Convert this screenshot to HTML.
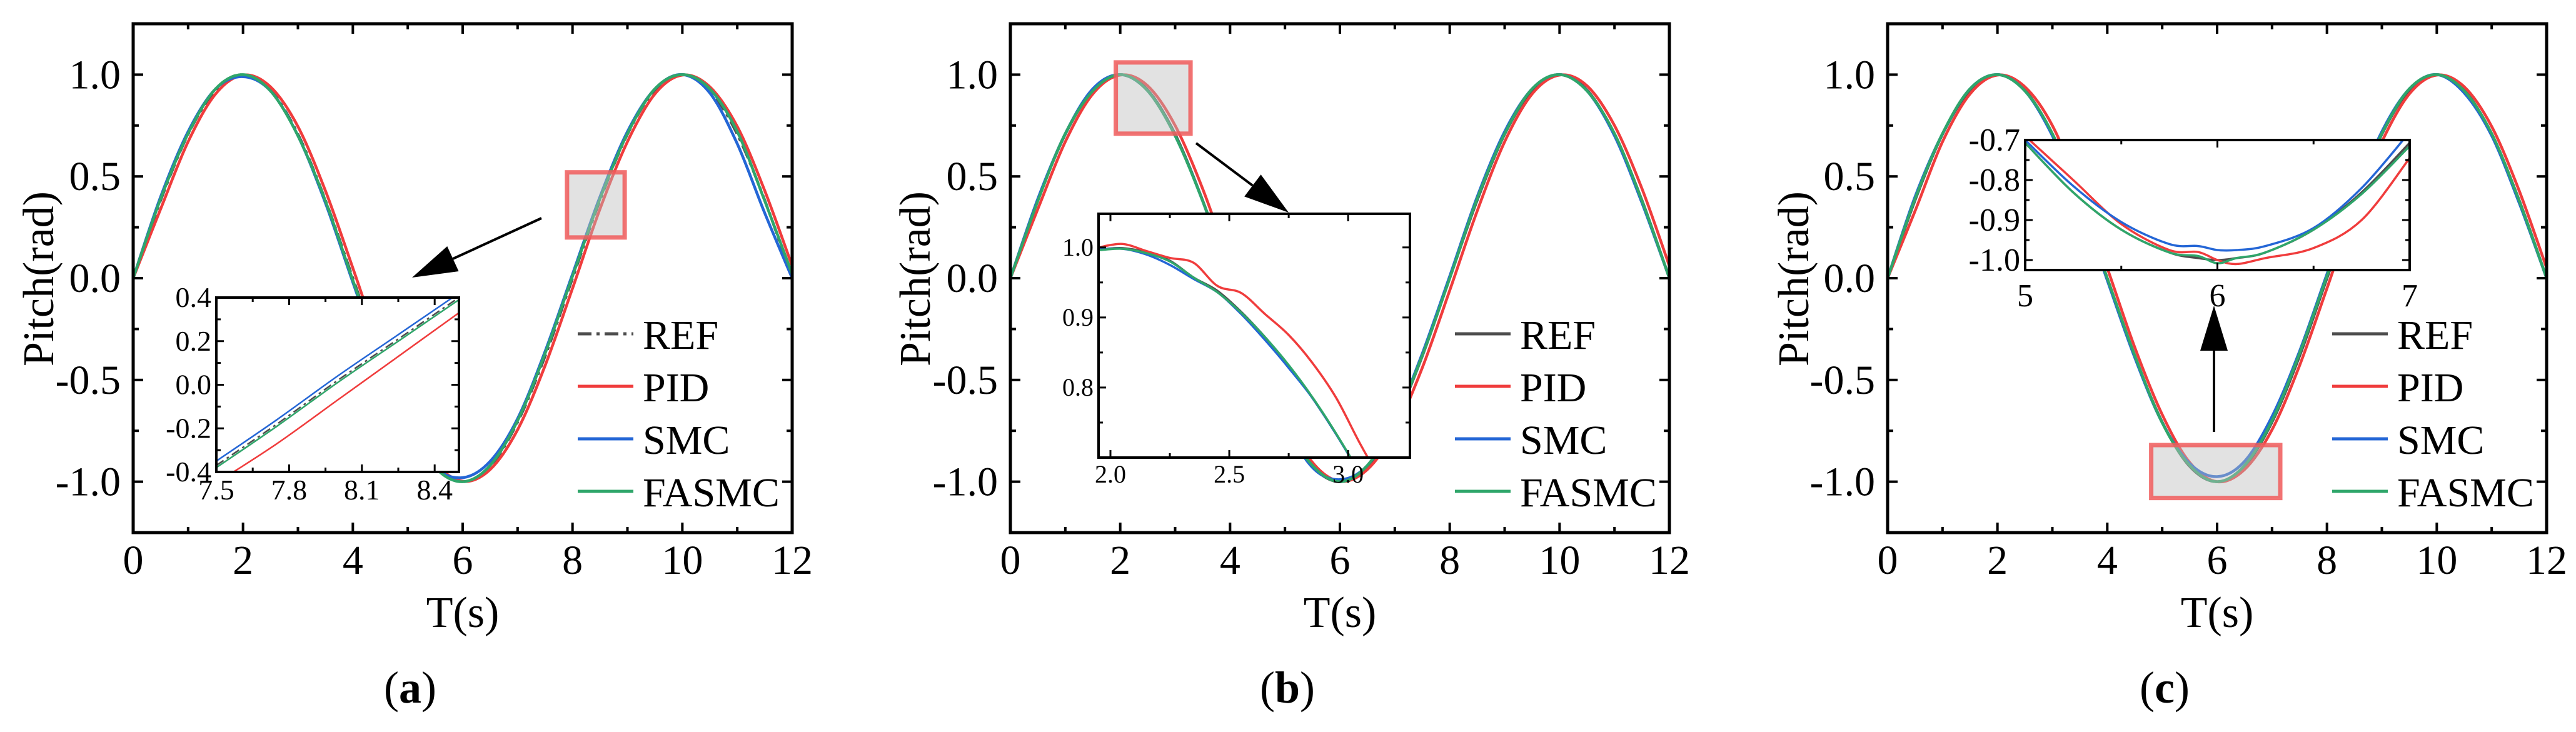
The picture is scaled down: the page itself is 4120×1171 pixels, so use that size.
<!DOCTYPE html>
<html><head><meta charset="utf-8"><style>
html,body{margin:0;padding:0;background:#fff;}
svg{display:block;font-family:"Liberation Serif",serif;}
</style></head><body>
<svg id="fig" xmlns="http://www.w3.org/2000/svg" width="4120" height="1171" viewBox="0 0 4120 1171"></svg>
<script>
// ---- shared data ----
const mainT = [0,0.5,1,1.5,2,2.5,3,3.5,4,4.5,5,5.5,6,6.5,7,7.5,8,8.5,9,9.5,10,10.5,11,11.5,12];
const refMain = [0,.383,.707,.924,1,.924,.707,.383,0,-.383,-.707,-.924,-1,-.924,-.707,-.383,0,.383,.707,.924,1,.924,.707,.383,0];
const xTickVals = [0,2,4,6,8,10,12];
const xTickLabels = ["0","2","4","6","8","10","12"];
const yTickVals = [-1,-0.5,0,0.5,1];
const yTickLabels = ["-1.0","-0.5","0.0","0.5","1.0"];
const legendNames = ["REF","PID","SMC","FASMC"];

// panel a
const pidA = [0,.34,.67,.905,.998,.94,.745,.43,.05,-.34,-.67,-.905,-.998,-.94,-.745,-.43,-.05,.34,.67,.905,.998,.94,.745,.43,.06];
const smcA = [0,.40,.72,.93,.99,.92,.70,.37,-.02,-.40,-.72,-.93,-.98,-.90,-.69,-.36,.02,.40,.72,.93,1,.91,.66,.32,0];
const fasA = [0,.39,.71,.93,1,.92,.70,.38,-.01,-.39,-.71,-.93,-1,-.92,-.70,-.37,.01,.39,.71,.93,1,.93,.72,.38,.02];
const insetAx = [7.5,7.75,8.0,8.25,8.5];
const insetAref = [-.37,-.18,.02,.21,.40];
const insetApid = [-.45,-.27,-.07,.13,.33];
const insetAsmc = [-.35,-.16,.04,.23,.42];
const insetAfas = [-.38,-.19,.01,.20,.39];
const insetAxTicks = [7.5,7.8,8.1,8.4];
const insetAxLabels = ["7.5","7.8","8.1","8.4"];
const insetAyTicks = [-0.4,-0.2,0,0.2,0.4];
const insetAyLabels = ["-0.4","-0.2","0.0","0.2","0.4"];

// panel b
const pidB = [0,.34,.67,.905,.998,.945,.75,.44,.06,-.33,-.67,-.905,-.998,-.94,-.75,-.44,-.06,.33,.67,.905,.998,.945,.75,.44,.06];
const smcB = [0,.39,.71,.93,1,.92,.70,.38,-.01,-.39,-.71,-.93,-.99,-.92,-.70,-.37,.01,.40,.72,.93,1,.92,.70,.37,0];
const fasB = [0,.38,.71,.92,1,.92,.70,.38,0,-.38,-.71,-.92,-1,-.92,-.70,-.38,0,.39,.71,.93,1,.92,.71,.38,0];
const insetBx = [1.95,2.05,2.15,2.25,2.35,2.45,2.55,2.65,2.75,2.85,2.95,3.05,3.15];
const insetBref = [.997,.999,.993,.981,.957,.938,.908,.872,.831,.785,.733,.676,.613];
const insetBpid = [1.0,1.005,.995,.985,.978,.945,.935,.905,.875,.835,.785,.72,.66];
const insetBsmc = [.997,.998,.99,.975,.955,.936,.905,.868,.828,.785,.733,.676,.613];
const insetBfas = [.996,.998,.992,.980,.957,.936,.907,.872,.832,.786,.734,.677,.614];
const insetBxTicks = [2.0,2.5,3.0];
const insetBxLabels = ["2.0","2.5","3.0"];
const insetByTicks = [0.8,0.9,1.0];
const insetByLabels = ["0.8","0.9","1.0"];

// panel c
const pidC = [0,.33,.67,.905,.998,.94,.75,.43,.05,-.34,-.67,-.905,-1.0,-.94,-.745,-.43,-.05,.34,.67,.905,.998,.94,.745,.43,.05];
const smcC = [0,.40,.71,.93,1,.92,.70,.38,-.01,-.39,-.71,-.91,-.975,-.90,-.68,-.36,.02,.40,.72,.93,1,.91,.70,.37,0];
const fasC = [0,.39,.71,.93,1,.92,.71,.38,0,-.38,-.71,-.92,-1.0,-.92,-.70,-.37,.01,.39,.71,.93,1,.92,.71,.38,0];
const insetCx = [5,5.25,5.5,5.75,5.9,6,6.1,6.25,6.5,6.75,7];
const insetCref = [-.707,-.831,-.924,-.981,-.995,-1,-.995,-.981,-.924,-.831,-.707];
const insetCpid = [-.69,-.80,-.91,-.975,-.98,-1.0,-1.01,-.995,-.97,-.90,-.745];
const insetCsmc = [-.70,-.815,-.905,-.96,-.965,-.975,-.975,-.965,-.92,-.82,-.68];
const insetCfas = [-.707,-.831,-.924,-.981,-.99,-1.008,-.995,-.981,-.924,-.835,-.715];
const insetCxTicks = [5,6,7];
const insetCxLabels = ["5","6","7"];
const insetCyTicks = [-1.0,-0.9,-0.8,-0.7];
const insetCyLabels = ["-1.0","-0.9","-0.8","-0.7"];

const COLORS = ["#4d4d4d","#f03c3c","#2466d6","#2fa66a"];
const NS = "http://www.w3.org/2000/svg";
const svg = document.getElementById("fig");

function mk(tag, attrs, parent){
  const e = document.createElementNS(NS, tag);
  for (const k in attrs) e.setAttribute(k, attrs[k]);
  (parent||svg).appendChild(e);
  return e;
}
function smoothPath(pts){
  let d = "M"+pts[0][0].toFixed(1)+","+pts[0][1].toFixed(1);
  for (let i=0;i<pts.length-1;i++){
    const p0=pts[Math.max(0,i-1)], p1=pts[i], p2=pts[i+1], p3=pts[Math.min(pts.length-1,i+2)];
    const c1=[p1[0]+(p2[0]-p0[0])/6, p1[1]+(p2[1]-p0[1])/6];
    const c2=[p2[0]-(p3[0]-p1[0])/6, p2[1]-(p3[1]-p1[1])/6];
    d += " C"+c1[0].toFixed(1)+","+c1[1].toFixed(1)+" "+c2[0].toFixed(1)+","+c2[1].toFixed(1)+" "+p2[0].toFixed(1)+","+p2[1].toFixed(1);
  }
  return d;
}
let clipId = 0;
function axes(box, xr, yr){
  const sx = v => box.x + (v-xr[0])/(xr[1]-xr[0])*box.w;
  const sy = v => box.y + box.h - (v-yr[0])/(yr[1]-yr[0])*box.h;
  return {sx, sy};
}
function drawSeries(g, ax, xs, ys, color, width, dash, name, clip){
  const pts = xs.map((x,i)=>[ax.sx(x), ax.sy(ys[i])]);
  const p = mk("path",{d:smoothPath(pts),fill:"none",stroke:color,"stroke-width":width,"stroke-linejoin":"round","clip-path":"url(#"+clip+")"},g);
  if (dash) p.setAttribute("stroke-dasharray", dash);
  
  
}
function makeClip(box){
  const id = "clip"+(clipId++);
  const cp = mk("clipPath",{id:id});
  mk("rect",{x:box.x,y:box.y,width:box.w,height:box.h},cp);
  return id;
}
function ticks(g, ax, box, xt, xminor, yt, yminor, majL, minL, sw){
  const all = [];
  xt.forEach(v=>all.push(["x",v,majL])); xminor.forEach(v=>all.push(["x",v,minL]));
  yt.forEach(v=>all.push(["y",v,majL])); yminor.forEach(v=>all.push(["y",v,minL]));
  all.forEach(([k,v,L])=>{
    if (k==="x"){ const X=ax.sx(v);
      mk("line",{x1:X,y1:box.y+box.h,x2:X,y2:box.y+box.h-L,stroke:"#000","stroke-width":sw},g);
      mk("line",{x1:X,y1:box.y,x2:X,y2:box.y+L,stroke:"#000","stroke-width":sw},g);
    } else { const Y=ax.sy(v);
      mk("line",{x1:box.x,y1:Y,x2:box.x+L,y2:Y,stroke:"#000","stroke-width":sw},g);
      mk("line",{x1:box.x+box.w,y1:Y,x2:box.x+box.w-L,y2:Y,stroke:"#000","stroke-width":sw},g);
    }
  });
}
function arrow(g, x1,y1,x2,y2, name){
  const dx=x2-x1, dy=y2-y1, L=Math.hypot(dx,dy), ux=dx/L, uy=dy/L;
  const hl=72, hw=22;
  const bx=x2-ux*hl, by=y2-uy*hl;
  mk("line",{x1:x1,y1:y1,x2:bx,y2:by,stroke:"#000","stroke-width":4},g);
  const h = mk("polygon",{points:`${x2},${y2} ${bx-uy*hw},${by+ux*hw} ${bx+uy*hw},${by-ux*hw}`,fill:"#000"},g);
  
  
}

function panel(cfg){
  const g = mk("g",{});
  
  
  const box = {x:cfg.x0, y:38, w:1054, h:814};
  const ax = axes(box,[0,12],[-1.25,1.25]);
  const clip = makeClip(box);
  const series = [refMain, cfg.pid, cfg.smc, cfg.fas];
  series.forEach((ys,i)=>drawSeries(g, ax, mainT, ys, COLORS[i], 4.5, (i===0&&cfg.dashRef)?"22,8,5,8":null, "series-"+legendNames[i].toLowerCase()+"-"+cfg.id, clip));
  const hb = cfg.hl;
  const hr = mk("rect",{x:ax.sx(hb[0]),y:ax.sy(hb[3]),width:ax.sx(hb[1])-ax.sx(hb[0]),height:ax.sy(hb[2])-ax.sy(hb[3]),fill:"rgba(190,190,190,0.45)",stroke:"rgba(240,90,90,0.85)","stroke-width":7},g);
  
  
  const fr = mk("rect",{x:box.x,y:box.y,width:box.w,height:box.h,fill:"none",stroke:"#000","stroke-width":5},g);
  
  
  ticks(g, ax, box, xTickVals, [1,3,5,7,9,11], yTickVals, [-1.25,-0.75,-0.25,0.25,0.75,1.25], 16, 9, 4);
  xTickVals.forEach((v,i)=>{
    const t = mk("text",{x:ax.sx(v),y:918,"font-size":66,"text-anchor":"middle"},g);
    t.textContent = xTickLabels[i];
    
    
  });
  yTickVals.forEach((v,i)=>{
    const t = mk("text",{x:box.x-20,y:ax.sy(v)+22,"font-size":66,"text-anchor":"end"},g);
    t.textContent = yTickLabels[i];
    
    
  });
  const xt = mk("text",{x:box.x+box.w/2,y:1003,"font-size":70,"text-anchor":"middle"},g);
  xt.textContent = "T(s)";
  
  
  const yt = mk("text",{x:0,y:0,"font-size":70,"text-anchor":"middle",transform:`translate(${cfg.ylabX},446) rotate(-90)`},g);
  yt.textContent = "Pitch(rad)";
  
  
  const pl = mk("text",{x:box.x+box.w/2-84,y:1124,"font-size":72,"text-anchor":"middle"},g);
  pl.innerHTML = '(<tspan font-weight="bold">'+cfg.id+'</tspan>)';
  
  
  const rows=[534,618,702,786];
  legendNames.forEach((n,i)=>{
    const lg = mk("g",{},g);
    
    
    const ln = mk("line",{x1:cfg.x0+711,y1:rows[i],x2:cfg.x0+800,y2:rows[i],stroke:COLORS[i],"stroke-width":5},lg);
    if (i===0&&cfg.dashRef) ln.setAttribute("stroke-dasharray","22,8,5,8");
    const t = mk("text",{x:cfg.x0+815,y:rows[i]+24,"font-size":66},lg);
    t.textContent = n;
  });
  const ib = cfg.inset.box;
  const iax = axes(ib, cfg.inset.xr, cfg.inset.yr);
  const ig = mk("g",{},g);
  
  
  mk("rect",{x:ib.x,y:ib.y,width:ib.w,height:ib.h,fill:"#fff"},ig);
  const iclip = makeClip(ib);
  const is = cfg.inset.series;
  is.forEach((ys,i)=>drawSeries(ig, iax, cfg.inset.xs, ys, COLORS[i], cfg.inset.lw, (i===0&&cfg.dashRef)?"14,6,4,6":null, "inset-series-"+legendNames[i].toLowerCase()+"-"+cfg.id, iclip));
  mk("rect",{x:ib.x,y:ib.y,width:ib.w,height:ib.h,fill:"none",stroke:"#000","stroke-width":4},ig);
  ticks(ig, iax, ib, cfg.inset.xt, cfg.inset.xminor, cfg.inset.yt, cfg.inset.yminor, 12, 7, 3);
  cfg.inset.xt.forEach((v,i)=>{
    const t = mk("text",{x:iax.sx(v),y:ib.y+ib.h+cfg.inset.xlabDy,"font-size":cfg.inset.fs,"text-anchor":"middle"},ig);
    t.textContent = cfg.inset.xl[i];
    
    
  });
  cfg.inset.yt.forEach((v,i)=>{
    const t = mk("text",{x:ib.x-8,y:iax.sy(v)+cfg.inset.fs*0.33,"font-size":cfg.inset.fs,"text-anchor":"end"},ig);
    t.textContent = cfg.inset.yl[i];
    
    
  });
  arrow(g, cfg.arrow[0], cfg.arrow[1], cfg.arrow[2], cfg.arrow[3], 'zoom-arrow-'+cfg.id);
}

panel({id:"a", x0:213, ylabX:85, dashRef:true, pid:pidA, smc:smcA, fas:fasA,
  hl:[7.9,8.95,0.2,0.52], arrow:[866,349,659,444],
  inset:{box:{x:346,y:476,w:388,h:279}, xr:[7.5,8.5], yr:[-0.4,0.4], xs:insetAx,
    series:[insetAref,insetApid,insetAsmc,insetAfas], lw:2.5,
    xt:insetAxTicks, xl:insetAxLabels, xminor:[7.65,7.95,8.25], yt:insetAyTicks, yl:insetAyLabels, yminor:[-0.3,-0.1,0.1,0.3],
    fs:46, xlabDy:44}});
panel({id:"b", x0:1616, ylabX:1487, dashRef:false, pid:pidB, smc:smcB, fas:fasB,
  hl:[1.92,3.28,0.71,1.06], arrow:[1913,229,2061,340],
  inset:{box:{x:1757,y:342,w:498,h:390}, xr:[1.95,3.26], yr:[0.7,1.048], xs:insetBx,
    series:[insetBref,insetBpid,insetBsmc,insetBfas], lw:3.5,
    xt:insetBxTicks, xl:insetBxLabels, xminor:[2.25,2.75], yt:insetByTicks, yl:insetByLabels, yminor:[0.75,0.85,0.95],
    fs:40, xlabDy:40}});
panel({id:"c", x0:3019, ylabX:2892, dashRef:false, pid:pidC, smc:smcC, fas:fasC,
  hl:[4.8,7.15,-1.08,-0.82], arrow:[3541,691,3541,489],
  inset:{box:{x:3239,y:224,w:615,h:208}, xr:[5,7], yr:[-1.025,-0.7], xs:insetCx,
    series:[insetCref,insetCpid,insetCsmc,insetCfas], lw:3.5,
    xt:insetCxTicks, xl:insetCxLabels, xminor:[5.5,6.5], yt:insetCyTicks, yl:insetCyLabels, yminor:[-0.95,-0.85,-0.75],
    fs:52, xlabDy:58}});
</script>
</body></html>
